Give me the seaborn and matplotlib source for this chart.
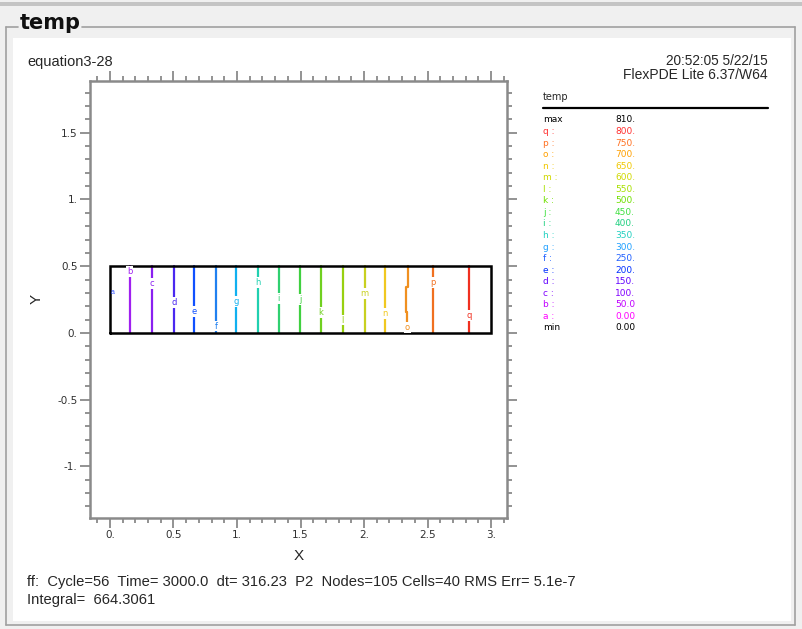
import numpy as np
import pandas as pd
import matplotlib.pyplot as plt
import matplotlib.lines as mlines
import matplotlib.patches as mpatches
from matplotlib.ticker import MultipleLocator
import seaborn as sns

# contour levels of temp and where each one crosses the strip
letters = ['b', 'c', 'd', 'e', 'f', 'g', 'h', 'i', 'j', 'k', 'l', 'm', 'n', 'o', 'p', 'q']
levels = [50, 100, 150, 200, 250, 300, 350, 400, 450, 500, 550, 600, 650, 700, 750, 800]
contour_x = [0.157, 0.331, 0.504, 0.664, 0.835, 0.992, 1.168, 1.328, 1.496,
             1.659, 1.832, 2.006, 2.165, 2.341, 2.541, 2.827]
label_y = [0.46, 0.372, 0.227, 0.16, 0.052, 0.235, 0.38, 0.26, 0.25,
           0.155, 0.097, 0.297, 0.147, 0.04, 0.38, 0.13]
# the 'o' contour has a small kink
o_x = [2.350, 2.350, 2.331, 2.331, 2.341, 2.341]
o_y = [0.5, 0.347, 0.347, 0.16, 0.16, 0.0]

line_colors = ['#a020f0', '#8a20f0', '#4a28f0', '#1050ff', '#2080f0', '#10b0f0',
               '#20d0b0', '#30d070', '#40d040', '#70d020', '#98d010', '#c8d020',
               '#f0c820', '#f09020', '#f07020', '#f03020']

# domain outline
domain_x = [0, 3, 3, 0, 0]
domain_y = [0, 0, 0.5, 0.5, 0]

# legend table
legend_names = ['max', 'q :', 'p :', 'o :', 'n :', 'm :', 'l :', 'k :', 'j :', 'i :',
                'h :', 'g :', 'f :', 'e :', 'd :', 'c :', 'b :', 'a :', 'min']
legend_values = ['810.', '800.', '750.', '700.', '650.', '600.', '550.', '500.', '450.',
                 '400.', '350.', '300.', '250.', '200.', '150.', '100.', '50.0', '0.00', '0.00']
legend_colors = ['#000000', '#ff3030', '#ff7020', '#ffa000', '#f0c800', '#d0d800',
                 '#a8e000', '#70e000', '#40e040', '#20d080', '#20d0c0', '#20a0ff',
                 '#2060ff', '#0030ff', '#6000ff', '#8000ff', '#c000ff', '#ff00ff', '#000000']

xtick_vals = [0, 0.5, 1, 1.5, 2, 2.5, 3]
xtick_labels = ['0.', '0.5', '1.', '1.5', '2.', '2.5', '3.']
ytick_vals = [-1, -0.5, 0, 0.5, 1, 1.5]
ytick_labels = ['-1.', '-0.5', '0.', '0.5', '1.', '1.5']

sns.set_style('white')
plt.rcParams['font.family'] = ['Liberation Sans', 'DejaVu Sans']

W, H = 802, 629
fig = plt.figure(figsize=(W / 100, H / 100), dpi=100, facecolor='#f0f0f0')


def px(x, y):
    return x / W, 1 - y / H


# window chrome / group box (kept behind the axes)
fig.add_artist(mpatches.Rectangle(px(0, 6), 1, 4 / H, transform=fig.transFigure,
                                  color='#c4c4c4', lw=0, zorder=-10))
fig.add_artist(mpatches.Rectangle(px(13, 621), (791 - 13) / W, (621 - 38) / H,
                                  transform=fig.transFigure, color='white', lw=0, zorder=-10))
for xs, ys in [([6, 18], [27, 27]), ([82, 795], [27, 27]), ([6, 6], [27, 625]),
               ([6, 795], [625, 625]), ([795, 795], [27, 625])]:
    p0 = px(xs[0], ys[0])
    p1 = px(xs[1], ys[1])
    fig.add_artist(mlines.Line2D([p0[0], p1[0]], [p0[1], p1[1]], transform=fig.transFigure,
                                 color='#a0a0a0', lw=1.2, zorder=-9))
fig.text(*px(20, 23), 'temp', fontsize=15, fontweight='bold', family='DejaVu Sans',
         va='center', ha='left', color='#101010')

# plot frame
ax = fig.add_axes([90 / W, 1 - 517.7 / H, (506.7 - 90) / W, (517.7 - 80.7) / H])

rows = []
for lt, xv in zip(letters, contour_x):
    if lt == 'o':
        for xx, yy in zip(o_x, o_y):
            rows.append((lt, xx, yy))
    else:
        rows.append((lt, xv, 0.0))
        rows.append((lt, xv, 0.5))
df = pd.DataFrame(rows, columns=['level', 'x', 'y'])
sns.lineplot(data=df, x='x', y='y', hue='level', hue_order=letters,
             palette=dict(zip(letters, line_colors)), estimator=None, sort=False,
             legend=False, lw=1.6, ax=ax)

ax.plot(domain_x, domain_y, color='black', lw=1.8, solid_joinstyle='miter')

for lt, xv, yv, c in zip(letters, contour_x, label_y, line_colors):
    ax.text(xv, yv, lt, fontsize=6, color=c, ha='center', va='center', family='DejaVu Sans',
            bbox=dict(boxstyle='square,pad=0.1', fc='white', ec='none'))
ax.text(0.01, 0.305, 'a', fontsize=5, color='#3050ff', ha='left', va='center')

ax.set_xlim(-0.157, 3.123)
ax.set_ylim(-1.384, 1.89)
ax.set_xticks(xtick_vals)
ax.set_xticklabels(xtick_labels)
ax.set_yticks(ytick_vals)
ax.set_yticklabels(ytick_labels)
ax.xaxis.set_minor_locator(MultipleLocator(0.1))
ax.yaxis.set_minor_locator(MultipleLocator(0.1))
ax.tick_params(which='both', direction='out', top=True, right=True, bottom=True, left=True,
               color='#8a8a8a', width=1.3, labelcolor='#303030', labelsize=7.5, pad=2)
ax.tick_params(which='major', length=7)
ax.tick_params(which='minor', length=3.5)
for lab in ax.get_xticklabels() + ax.get_yticklabels():
    lab.set_family('DejaVu Sans')
for sp in ax.spines.values():
    sp.set_color('#8a8a8a')
    sp.set_linewidth(1.8)
ax.set_xlabel('X', fontsize=11, labelpad=6)
ax.set_ylabel('Y', fontsize=11, labelpad=10)
ax.set_facecolor('white')

# header texts
fig.text(*px(27, 62), 'equation3-28', fontsize=10.5, va='center', ha='left')
fig.text(*px(768, 61), '20:52:05 5/22/15', fontsize=9.8, va='center', ha='right')
fig.text(*px(768, 75), 'FlexPDE Lite 6.37/W64', fontsize=10, va='center', ha='right')

# legend table
fig.text(*px(543, 97), 'temp', fontsize=7, va='center', ha='left', family='DejaVu Sans')
p0, p1 = px(543, 108), px(768, 108)
fig.add_artist(mlines.Line2D([p0[0], p1[0]], [p0[1], p1[1]], transform=fig.transFigure,
                             color='black', lw=1.6))
for k, (nm, val, c) in enumerate(zip(legend_names, legend_values, legend_colors)):
    yy = 120 + k * 11.55
    fig.text(*px(543, yy), nm, fontsize=6.5, color=c, va='center', ha='left', family='DejaVu Sans')
    fig.text(*px(615, yy), val, fontsize=6.5, color=c, va='center', ha='left', family='DejaVu Sans')

# footer
fig.text(*px(27, 582), 'ff:  Cycle=56  Time= 3000.0  dt= 316.23  P2  Nodes=105 Cells=40 RMS Err= 5.1e-7',
         fontsize=10.6, va='center', ha='left')
fig.text(*px(27, 600), 'Integral=  664.3061', fontsize=10.6, va='center', ha='left')

fig.savefig('out.png', dpi=100, facecolor=fig.get_facecolor())
